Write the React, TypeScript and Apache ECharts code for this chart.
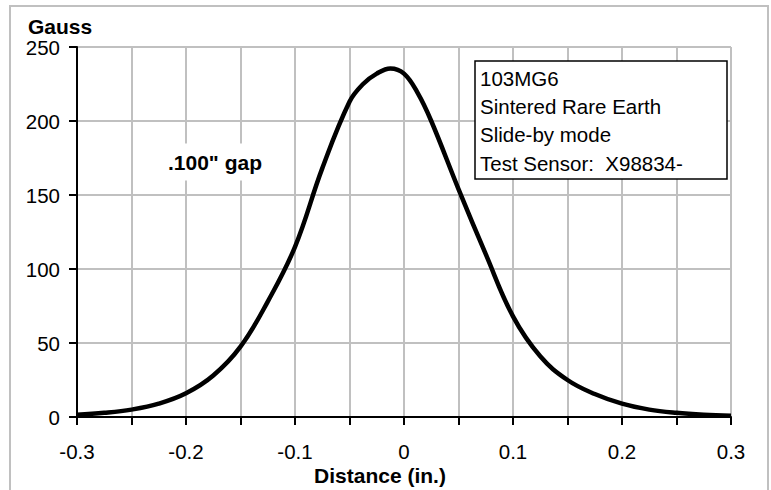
import React, { useEffect, useRef } from "react";
import * as echarts from "echarts";

const distances = [
  -0.3, -0.275, -0.25, -0.225, -0.2, -0.175, -0.15, -0.125, -0.1, -0.075, -0.05, -0.0375, -0.025,
  -0.0125, 0, 0.0125, 0.025, 0.05, 0.075, 0.1, 0.125, 0.15, 0.175, 0.2, 0.225, 0.25, 0.275, 0.3,
];
const gauss = [
  1.5, 2.8, 5, 9, 16, 28, 47.5, 78, 115, 168, 213, 225, 232,
  235.5, 232, 219, 200, 154, 110, 68, 41, 25, 15.5, 9, 5, 2.8, 1.5, 0.8,
];
const infoLines = ["103MG6", "Sintered Rare Earth", "Slide-by mode", "Test Sensor:  X98834-"];
const yAxisTitle = "Gauss";
const xAxisTitle = "Distance (in.)";
const gapLabel = '.100" gap';

const FONT = "'Liberation Sans', Arial, Helvetica, sans-serif";

export default function App() {
  const ref = useRef<HTMLDivElement>(null);
  useEffect(() => {
    if (!ref.current) return;
    const chart = echarts.init(ref.current, null, { renderer: "svg" });
    const data = distances.map((d, i) => [d, gauss[i]]);
    chart.setOption({
      animation: false,
      backgroundColor: "#ffffff",
      grid: { left: 77, right: 40, top: 47, bottom: 73, containLabel: false },
      xAxis: {
        type: "value",
        min: -0.3,
        max: 0.3,
        interval: 0.1,
        axisLine: { show: true, onZero: false, lineStyle: { color: "#000", width: 2 } },
        axisTick: { show: true, length: 8, lineStyle: { color: "#000", width: 2 } },
        minorTick: { show: true, splitNumber: 2, length: 8, lineStyle: { color: "#000", width: 2 } },
        splitLine: { show: true, showMinLine: false, lineStyle: { color: "#c0c0c0", width: 2 } },
        minorSplitLine: { show: true, lineStyle: { color: "#c0c0c0", width: 2 } },
        axisLabel: {
          margin: 24,
          color: "#000",
          fontFamily: FONT,
          fontSize: 20.5,
          formatter: (v: number) => String(Math.round(v * 10) / 10),
        },
      },
      yAxis: {
        type: "value",
        min: 0,
        max: 250,
        interval: 50,
        axisLine: { show: true, onZero: false, lineStyle: { color: "#000", width: 2 } },
        axisTick: { show: true, length: 8, lineStyle: { color: "#000", width: 2 } },
        splitLine: { show: true, showMinLine: false, lineStyle: { color: "#c0c0c0", width: 2 } },
        axisLabel: { margin: 17, color: "#000", fontFamily: FONT, fontSize: 20.5 },
      },
      series: [
        {
          type: "line",
          data,
          smooth: 0.4,
          showSymbol: false,
          symbol: "none",
          lineStyle: { color: "#000", width: 4.5 },
          z: 5,
        },
      ],
      graphic: [
        {
          type: "rect",
          z: 0,
          silent: true,
          shape: { x: 10, y: 6, width: 758, height: 520 },
          style: { fill: "none", stroke: "#c0c0c0", lineWidth: 2 },
        },
        {
          type: "text",
          x: 28,
          y: 26,
          z: 100,
          style: {
            text: yAxisTitle,
            fill: "#000",
            font: `bold 21px ${FONT}`,
            textAlign: "left",
            textVerticalAlign: "middle",
          },
        },
        {
          type: "text",
          x: 380,
          y: 475,
          z: 100,
          style: {
            text: xAxisTitle,
            fill: "#000",
            font: `bold 21px ${FONT}`,
            textAlign: "center",
            textVerticalAlign: "middle",
          },
        },
        {
          type: "text",
          x: 162,
          y: 162,
          z: 100,
          style: {
            text: gapLabel,
            fill: "#000",
            font: `bold 21px ${FONT}`,
            textAlign: "left",
            textVerticalAlign: "middle",
            backgroundColor: "#fff",
            padding: [8, 6, 8, 6],
          },
        },
        {
          type: "rect",
          z: 100,
          shape: { x: 475, y: 61, width: 252, height: 118 },
          style: { fill: "#fff", stroke: "#000", lineWidth: 1.5 },
        },
        ...infoLines.map((t, i) => ({
          type: "text",
          x: 480,
          y: 78.3 + i * 28.3,
          z: 101,
          style: {
            text: t,
            fill: "#000",
            font: `20.5px ${FONT}`,
            textAlign: "left",
            textVerticalAlign: "middle",
          },
        })),
      ],
    });
    return () => chart.dispose();
  }, []);
  return (
    <div
      ref={ref}
      style={{ position: "fixed", left: 0, top: 0, width: 771, height: 490, overflow: "hidden" }}
    />
  );
}
